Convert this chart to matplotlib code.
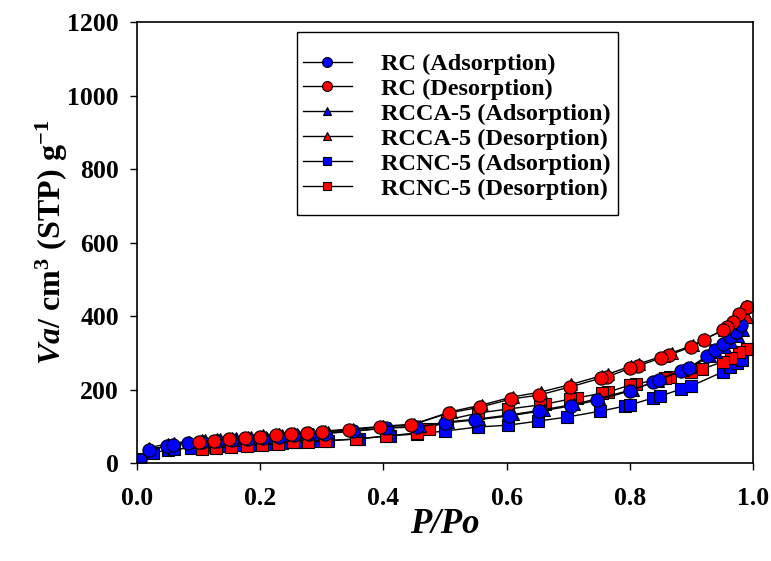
"""
Nitrogen adsorption/desorption isotherms for RC, RCCA-5 and RCNC-5.
Saves out.png.
"""

import matplotlib.pyplot as plt
from matplotlib.patches import Rectangle

# RC
rc_ads_x = [0.005, 0.02, 0.048, 0.058, 0.083, 0.105, 0.13, 0.155, 0.18, 0.205,
            0.23, 0.255, 0.28, 0.305, 0.35, 0.404, 0.454, 0.50, 0.549, 0.604,
            0.653, 0.704, 0.747, 0.80, 0.838, 0.847, 0.883, 0.896, 0.925, 0.938,
            0.951, 0.963, 0.972, 0.981, 0.99]
rc_ads_y = [8, 35, 46, 49, 54, 57, 60, 63, 66, 68,
            72, 75, 78, 80, 86, 95, 98, 109, 117, 128,
            141, 155, 171, 196, 220, 226, 250, 259, 291, 307,
            324, 343, 356, 375, 424]
rc_des_x = [0.99, 0.977, 0.967, 0.958, 0.951, 0.92, 0.90, 0.864, 0.851, 0.813,
            0.80, 0.763, 0.753, 0.703, 0.653, 0.607, 0.557, 0.506, 0.445, 0.395,
            0.344, 0.30, 0.276, 0.25, 0.225, 0.20, 0.175, 0.15, 0.125, 0.10]
rc_des_y = [424, 405, 384, 370, 362, 335, 316, 294, 286, 264,
            258, 234, 231, 207, 185, 174, 152, 136, 103, 98,
            90, 84, 81, 79, 76, 71, 68, 65, 61, 58]

# RCCA-5
ca_ads_x = [0.005, 0.02, 0.05, 0.06, 0.085, 0.11, 0.135, 0.16, 0.185, 0.21,
            0.235, 0.26, 0.285, 0.31, 0.355, 0.41, 0.46, 0.505, 0.555, 0.61,
            0.66, 0.71, 0.75, 0.805, 0.845, 0.85, 0.887, 0.90, 0.93, 0.94,
            0.955, 0.965, 0.975, 0.983, 0.99]
ca_ads_y = [10, 42, 52, 55, 58, 62, 65, 67, 70, 72,
            75, 78, 80, 83, 88, 96, 100, 112, 120, 132,
            145, 160, 176, 200, 224, 230, 254, 262, 290, 302,
            316, 330, 345, 362, 398]
ca_des_x = [0.99, 0.978, 0.968, 0.96, 0.953, 0.922, 0.902, 0.868, 0.855, 0.815,
            0.802, 0.765, 0.755, 0.705, 0.655, 0.61, 0.56, 0.51, 0.45, 0.40,
            0.35, 0.305, 0.28, 0.255, 0.23, 0.205, 0.18, 0.155, 0.13, 0.105]
ca_des_y = [398, 390, 378, 368, 362, 338, 320, 300, 292, 270,
            264, 242, 238, 214, 193, 180, 158, 140, 106, 100,
            93, 87, 84, 82, 79, 75, 72, 69, 66, 62]

# RCNC-5
nc_ads_x = [0.005, 0.026, 0.05, 0.06, 0.087, 0.11, 0.135, 0.16, 0.185, 0.21,
            0.235, 0.26, 0.285, 0.31, 0.36, 0.41, 0.454, 0.50, 0.554, 0.603,
            0.651, 0.698, 0.752, 0.792, 0.80, 0.838, 0.849, 0.883, 0.899, 0.951,
            0.963, 0.974, 0.982, 0.99]
nc_ads_y = [12, 27, 36, 38, 40, 43, 46, 48, 50, 52,
            55, 57, 59, 61, 66, 74, 79, 87, 98, 103,
            114, 125, 141, 155, 158, 177, 182, 201, 209, 248,
            261, 272, 280, 310]
nc_des_x = [0.99, 0.977, 0.964, 0.951, 0.917, 0.90, 0.865, 0.857, 0.81, 0.80,
            0.765, 0.755, 0.714, 0.703, 0.662, 0.654, 0.603, 0.554, 0.503, 0.474,
            0.454, 0.404, 0.355, 0.305, 0.278, 0.253, 0.229, 0.203, 0.179, 0.153,
            0.128, 0.105]
nc_des_y = [310, 302, 286, 275, 256, 248, 234, 231, 215, 212,
            193, 190, 177, 174, 160, 158, 147, 136, 117, 92,
            82, 73, 65, 60, 57, 56, 53, 50, 47, 44,
            41, 38]

labels = ["RC (Adsorption)", "RC (Desorption)",
          "RCCA-5 (Adsorption)", "RCCA-5 (Desorption)",
          "RCNC-5 (Adsorption)", "RCNC-5 (Desorption)"]

plt.rcParams.update({
    "font.family": "Liberation Serif",
    "font.weight": "bold",
    "mathtext.fontset": "custom",
    "mathtext.rm": "Liberation Serif:weight=bold",
    "mathtext.it": "Liberation Serif:style=italic:weight=bold",
    "mathtext.bf": "Liberation Serif:weight=bold",
})

fig = plt.figure(figsize=(7.71, 5.61), dpi=100)
ax = fig.add_axes([0.1777, 0.1747, 0.799, 0.786])

series = [
    (rc_ads_x, rc_ads_y, "o", "#0000ff"),
    (rc_des_x, rc_des_y, "o", "#ff0000"),
    (ca_ads_x, ca_ads_y, "^", "#0000ff"),
    (ca_des_x, ca_des_y, "^", "#ff0000"),
    (nc_ads_x, nc_ads_y, "s", "#0000ff"),
    (nc_des_x, nc_des_y, "s", "#ff0000"),
]
# draw squares first, then triangles, then circles on top
order = [4, 5, 2, 3, 0, 1]
handles = [None] * 6
for i in order:
    x, y, m, c = series[i]
    ms = 9.5 if m == "o" else 8.5
    h, = ax.plot(x, y, color="black", lw=1.0, marker=m, markersize=ms,
                 markerfacecolor=c, markeredgecolor="black",
                 markeredgewidth=0.8, label=labels[i])
    handles[i] = h

ax.set_xlim(0, 1.0)
ax.set_ylim(0, 1200)
ax.set_xticks([0.0, 0.2, 0.4, 0.6, 0.8, 1.0])
ax.set_yticks(range(0, 1201, 200))
ax.tick_params(direction="out", length=5, width=1, labelsize=18.5)
ax.tick_params(axis="x", pad=12)
ax.tick_params(axis="y", pad=8)
for s in ax.spines.values():
    s.set_linewidth(1.2)

ax.set_xlabel("P/Po", fontsize=25, fontstyle="italic", fontweight="bold")
ax.xaxis.set_label_coords(0.5, -0.102)
ax.set_ylabel(r"$Va/\ \mathbf{cm}^\mathbf{3}\ \mathbf{(STP)}\ \mathbf{g}^\mathbf{-1}$",
              fontsize=23, fontweight="bold")
ax.yaxis.set_label_coords(-0.108, 0.5)

# legend box drawn separately so the padding can match the original
ax.add_patch(Rectangle((0.2597, 0.5624), 0.5213, 0.4146, transform=ax.transAxes,
                       facecolor="white", edgecolor="black", lw=1.0,
                       zorder=4.5))
leg = ax.legend(handles=handles, loc="upper left",
                bbox_to_anchor=(0.2695, 0.9297), borderaxespad=0,
                fontsize=17.5, frameon=False, borderpad=0,
                handlelength=2.0, handletextpad=1.2, labelspacing=0.12,
                markerscale=0.75)

fig.savefig("out.png", dpi=100)
